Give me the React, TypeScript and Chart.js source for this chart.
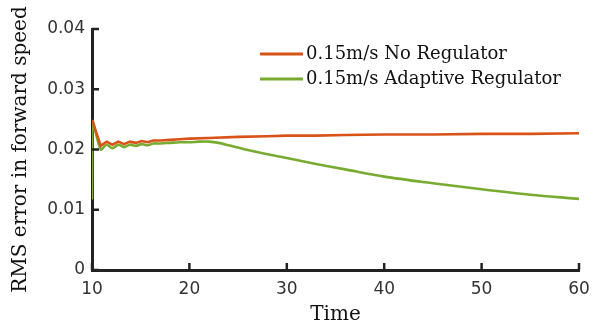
import React, { useEffect, useRef } from "react";
import { Chart, registerables } from "chart.js";

Chart.register(...registerables);

const seriesLabels = ["0.15m/s No Regulator", "0.15m/s Adaptive Regulator"];
const seriesColors = ["#D95319", "#77AC30"];

const noRegTime = [10, 10.9, 11.5, 12.1, 12.7, 13.3, 13.9, 14.5, 15.1, 15.7, 16.3, 17, 18, 19, 20, 22, 25, 28, 30, 33, 36, 40, 45, 50, 55, 60];
const noRegValues = [0.0249, 0.0206, 0.0213, 0.0208, 0.0213, 0.0209, 0.0213, 0.0211, 0.0214, 0.0212, 0.0215, 0.0215, 0.0216, 0.0217, 0.0218, 0.0219, 0.0221, 0.0222, 0.0223, 0.0223, 0.0224, 0.0225, 0.0225, 0.0226, 0.0226, 0.0227];

const adaptiveTime = [10, 10.05, 10.9, 11.5, 12.1, 12.7, 13.3, 13.9, 14.5, 15.1, 15.7, 16.3, 17, 18, 19, 20, 21, 22, 23, 24, 26, 28, 30, 33, 36, 40, 45, 50, 55, 60];
const adaptiveValues = [0.0117, 0.0246, 0.0200, 0.0208, 0.0202, 0.0208, 0.0204, 0.0208, 0.0206, 0.0209, 0.0207, 0.0210, 0.0210, 0.0211, 0.0212, 0.0212, 0.0213, 0.0213, 0.0211, 0.0207, 0.0199, 0.0192, 0.0186, 0.0176, 0.0167, 0.0155, 0.0144, 0.0134, 0.0125, 0.0118];

const xTicks = [10, 20, 30, 40, 50, 60];
const yTicks = [0, 0.01, 0.02, 0.03, 0.04];

const xTitle = "Time";
const yTitle = "RMS error in forward speed";

const SERIF = "'DejaVu Serif', 'Liberation Serif', serif";
const SANS = "'DejaVu Sans', sans-serif";

export default function App() {
  const ref = useRef<HTMLCanvasElement | null>(null);

  useEffect(() => {
    document.body.style.margin = "0";
    const canvas = ref.current;
    if (!canvas) return;

    const innerTicks = {
      id: "innerTicks",
      afterDraw(chart: any) {
        const ctx = chart.ctx;
        const { left, bottom } = chart.chartArea;
        const xs = chart.scales.x;
        const ys = chart.scales.y;
        ctx.save();
        ctx.strokeStyle = "#222";
        ctx.lineWidth = 2.5;
        yTicks.forEach((v) => {
          const p = ys.getPixelForValue(v);
          ctx.beginPath();
          ctx.moveTo(left, p);
          ctx.lineTo(left + 7, p);
          ctx.stroke();
        });
        xTicks.forEach((v) => {
          const p = xs.getPixelForValue(v);
          ctx.beginPath();
          ctx.moveTo(p, bottom);
          ctx.lineTo(p, bottom - 7);
          ctx.stroke();
        });
        ctx.restore();
      },
    };

    const customLegend = {
      id: "customLegend",
      afterDraw(chart: any) {
        const ctx = chart.ctx;
        ctx.save();
        const x0 = 260;
        const x1 = 303;
        const rows = [54, 79];
        chart.data.datasets.forEach((ds: any, i: number) => {
          const y = rows[i];
          ctx.strokeStyle = ds.borderColor;
          ctx.lineWidth = 3;
          ctx.beginPath();
          ctx.moveTo(x0, y);
          ctx.lineTo(x1, y);
          ctx.stroke();
          ctx.fillStyle = "#111";
          ctx.font = `18px ${SERIF}`;
          ctx.textBaseline = "middle";
          ctx.textAlign = "left";
          ctx.fillText(ds.label, x1 + 3, y);
        });
        ctx.restore();
      },
    };

    const chart = new Chart(canvas, {
      type: "line",
      data: {
        datasets: [
          {
            label: seriesLabels[0],
            data: noRegTime.map((t, i) => ({ x: t, y: noRegValues[i] })),
            borderColor: seriesColors[0],
            backgroundColor: seriesColors[0],
            borderWidth: 2.6,
            pointRadius: 0,
            tension: 0,
            fill: false,
          },
          {
            label: seriesLabels[1],
            data: adaptiveTime.map((t, i) => ({ x: t, y: adaptiveValues[i] })),
            borderColor: seriesColors[1],
            backgroundColor: seriesColors[1],
            borderWidth: 2.6,
            pointRadius: 0,
            tension: 0.3,
            fill: false,
          },
        ],
      },
      options: {
        animation: false,
        responsive: false,
        maintainAspectRatio: false,
        layout: { padding: { top: 29, right: 21, left: 0, bottom: 0 } },
        plugins: {
          legend: { display: false },
          tooltip: { enabled: false },
        },
        scales: {
          x: {
            type: "linear",
            min: 10,
            max: 60,
            afterBuildTicks: (s: any) => {
              s.ticks = xTicks.map((v) => ({ value: v }));
            },
            afterFit: (s: any) => {
              s.height = 58;
            },
            grid: { display: false, drawTicks: false },
            border: { display: true, color: "#222", width: 3 },
            ticks: {
              color: "#333",
              font: { family: SANS, size: 17 },
              padding: 9,
              maxRotation: 0,
            },
            title: {
              display: true,
              text: xTitle,
              color: "#111",
              font: { family: SERIF, size: 20 },
              padding: { top: 0, bottom: 1 },
            },
          },
          y: {
            type: "linear",
            min: 0,
            max: 0.04,
            afterBuildTicks: (s: any) => {
              s.ticks = yTicks.map((v) => ({ value: v }));
            },
            afterFit: (s: any) => {
              s.width = 92;
            },
            grid: { display: false, drawTicks: false },
            border: { display: true, color: "#222", width: 3 },
            ticks: {
              color: "#333",
              font: { family: SANS, size: 17 },
              padding: 7,
              callback: (v: any) => (Number(v) === 0 ? "0" : Number(v).toFixed(2)),
            },
            title: {
              display: true,
              text: yTitle,
              color: "#111",
              font: { family: SERIF, size: 20 },
              padding: { top: 9, bottom: 0 },
            },
          },
        },
      },
      plugins: [innerTicks, customLegend],
    });

    return () => chart.destroy();
  }, []);

  return (
    <div style={{ width: 600, height: 328 }}>
      <canvas ref={ref} width={600} height={328} style={{ display: "block" }} />
    </div>
  );
}
